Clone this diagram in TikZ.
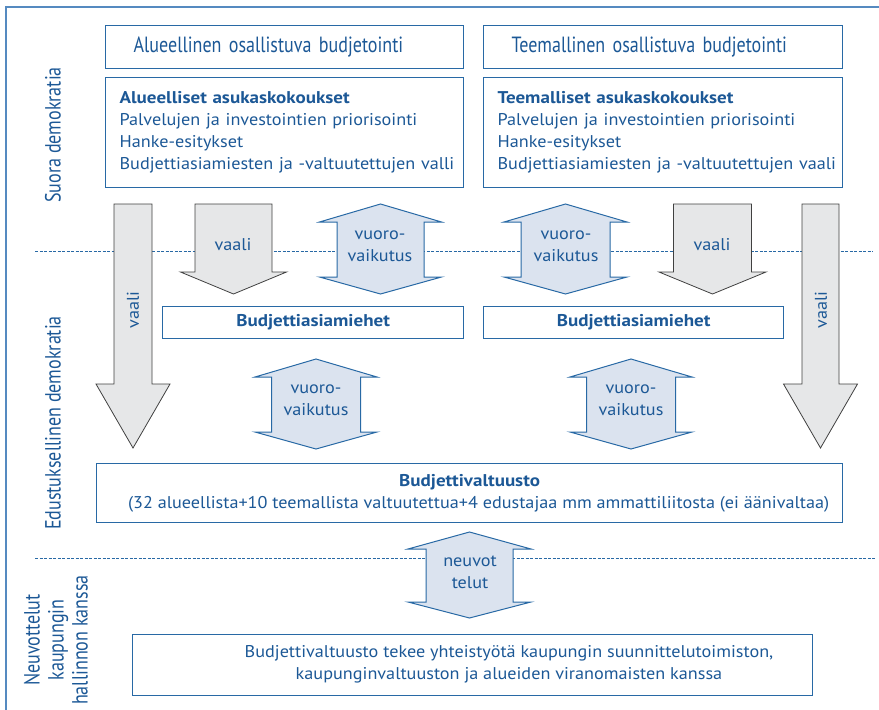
\documentclass[tikz,border=0pt]{standalone}
\usepackage{fontspec}
\setmainfont{PT Sans}[FakeStretch=1.07, BoldFeatures={FakeStretch=1.12}]
\newfontfamily\condfont[FakeStretch=0.82]{PT Sans}

\definecolor{txtblue}{RGB}{28,88,150}
\definecolor{lineblue}{RGB}{40,105,165}
\definecolor{frameblue}{RGB}{85,138,192}
\definecolor{arrowgray}{RGB}{230,231,232}
\definecolor{arrowblue}{RGB}{219,227,239}

% down arrow: centre x, half shaft, half head, top, head base, tip
\newcommand{\vaaliArrow}[6]{%
	\draw[grayarrow] ({#1-#2},#4) -- ({#1+#2},#4) -- ({#1+#2},#5) -- ({#1+#3},#5)
		-- (#1,#6) -- ({#1-#3},#5) -- ({#1-#2},#5) -- cycle;}
% two-way arrow: centre x, half shaft, half head, top, base 1, base 2, bottom
\newcommand{\vuoroArrow}[7]{%
	\draw[bluearrow] (#1,#4) -- ({#1+#3},#5) -- ({#1+#2},#5) -- ({#1+#2},#6) -- ({#1+#3},#6)
		-- (#1,#7) -- ({#1-#3},#6) -- ({#1-#2},#6) -- ({#1-#2},#5) -- ({#1-#3},#5) -- cycle;}

\begin{document}
\begin{tikzpicture}[x=1pt,y=-1pt,
		box/.style={draw=lineblue, line width=1.2pt, anchor=north west},
		txt/.style={text=txtblue, font=\fontsize{17}{22}\selectfont},
		cond/.style={text=txtblue, font=\condfont\fontsize{22}{24}\selectfont},
		grayarrow/.style={draw=black!75, fill=arrowgray, line width=0.8pt},
		bluearrow/.style={draw=lineblue, fill=arrowblue, line width=1pt},
		sep/.style={lineblue, dash pattern=on 3pt off 1.5pt, line width=0.8pt}]
	\useasboundingbox (0,0) rectangle (879,710);
	\draw[frameblue, line width=2pt] (879,7) -- (6,7) -- (6,710);
	% levels
	\draw[sep] (35,251) -- (873,251);
	\draw[sep] (35,558) -- (875,558);
	\node[cond, rotate=90] (suora) at (53,135) {Suora demokratia};
	\node[cond, rotate=90] (edustus) at (53,423) {Edustuksellinen demokratia};
	\node[cond, rotate=90, align=center] (neuvottelut) at (56,640) {Neuvottelut\\kaupungin\\hallinnon kanssa};
	% top boxes
	\node[box, cond, minimum width=358pt, minimum height=43pt, text width=302pt, inner xsep=28pt, align=left] (aluetitle) at (105,25) {Alueellinen osallistuva budjetointi};
	\node[box, cond, minimum width=359pt, minimum height=43pt, text width=303pt, inner xsep=28pt, align=left] (teematitle) at (483,25) {Teemallinen osallistuva budjetointi};
	\node[box, txt, minimum width=358pt, minimum height=110pt, text width=330pt, inner xsep=14pt, align=left] (aluekok) at (105,77)
		{\textbf{Alueelliset asukaskokoukset}\\Palvelujen ja investointien priorisointi\\Hanke-esitykset\\\mbox{Budjettiasiamiesten ja -valtuutettujen valli}};
	\node[box, txt, minimum width=359pt, minimum height=110pt, text width=331pt, inner xsep=14pt, align=left] (teemakok) at (483,77)
		{\textbf{Teemalliset asukaskokoukset}\\Palvelujen ja investointien priorisointi\\Hanke-esitykset\\\mbox{Budjettiasiamiesten ja -valtuutettujen vaali}};
	% arrows
	\vaaliArrow{133}{19}{37}{204}{384}{448}
	\vaaliArrow{233.5}{38.5}{53}{204}{272}{294}
	\vaaliArrow{712.5}{39}{53.5}{204}{272}{294}
	\vaaliArrow{820.5}{18.5}{37}{204}{384}{448}
	\vuoroArrow{380.5}{43.5}{61}{204}{222}{277}{294}
	\vuoroArrow{565.5}{44.5}{61.5}{204}{222}{277}{294}
	\vuoroArrow{316}{44.5}{61}{359}{377}{432}{449}
	\vuoroArrow{631}{44.5}{61}{359}{377}{432}{449}
	\vuoroArrow{469.5}{43.5}{61.5}{532}{549}{602}{618}
	\node[txt, rotate=90] (vaaliA) at (133,310) {vaali};
	\node[txt] (vaaliB) at (233,245) {vaali};
	\node[txt] (vaaliC) at (712,245) {vaali};
	\node[txt, rotate=90] (vaaliD) at (821,310) {vaali};
	\node[txt, align=center] (vuoroA) at (380,246) {vuoro-\\vaikutus};
	\node[txt, align=center] (vuoroB) at (566,246) {vuoro-\\vaikutus};
	\node[txt, align=center] (vuoroC) at (316,400) {vuoro-\\vaikutus};
	\node[txt, align=center] (vuoroD) at (631,400) {vuoro-\\vaikutus};
	\node[txt, align=center] (neuvot) at (470,572) {neuvot\\telut};
	% lower boxes
	\node[box, txt, minimum width=301pt, minimum height=32pt, font=\fontsize{17}{22}\selectfont\bfseries] (asiamiesA) at (162,306) {Budjettiasiamiehet};
	\node[box, txt, minimum width=300pt, minimum height=32pt, font=\fontsize{17}{22}\selectfont\bfseries] (asiamiesB) at (483,306) {Budjettiasiamiehet};
	\node[box, txt, minimum width=746pt, minimum height=59pt, align=center] (valtuusto) at (96,463)
		{\textbf{Budjettivaltuusto}\\\hspace*{18pt}(32 alueellista+10 teemallista valtuutettua+4 edustajaa mm ammattiliitosta (ei äänivaltaa)};
	\node[box, minimum width=680pt, minimum height=61pt] (yhteistyo) at (132,634) {};
	\node[txt, align=center] (yhteistyoteksti) at (509,664)
		{Budjettivaltuusto tekee yhteistyötä kaupungin suunnittelutoimiston,\\kaupunginvaltuuston ja alueiden viranomaisten kanssa};
\end{tikzpicture}
\end{document}
